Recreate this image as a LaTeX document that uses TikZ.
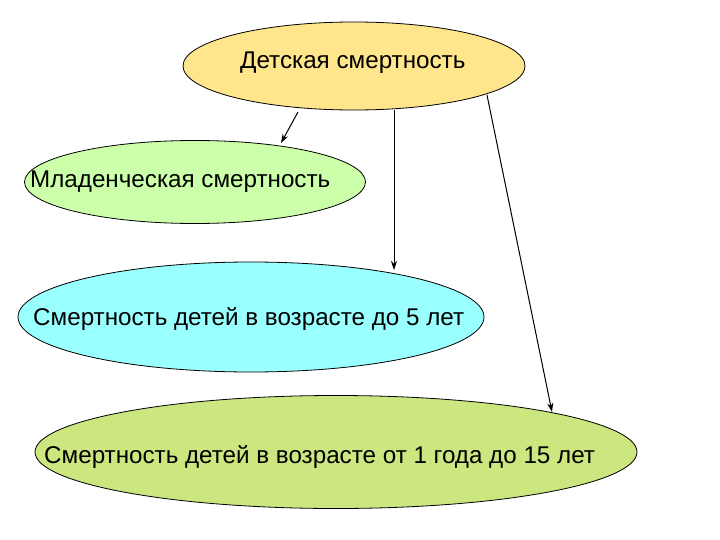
\documentclass[tikz,border=0pt]{standalone}
\usepackage{fontspec}
\setmainfont{Liberation Sans}
\usetikzlibrary{shapes.geometric,arrows.meta}
\begin{document}
\begin{tikzpicture}[x=1pt,y=-1pt,
 ell/.style={ellipse,draw=black,line width=0.8pt,inner sep=0pt},
 lbl/.style={font=\fontsize{24.2}{28}\selectfont,anchor=west,inner sep=0pt},
 arr/.style={-{Stealth[length=9pt,width=6pt]},line width=1pt}]
\useasboundingbox (0,0) rectangle (720,540);
\node[ell,fill={rgb,255:red,255;green,230;blue,140},minimum width=342,minimum height=88] (e1) at (354,66) {};
\node[ell,fill={rgb,255:red,204;green,255;blue,170},minimum width=341,minimum height=83] (e2) at (195,182) {};
\node[ell,fill={rgb,255:red,153;green,255;blue,255},minimum width=466,minimum height=110] (e3) at (251,317) {};
\node[ell,fill={rgb,255:red,204;green,230;blue,128},minimum width=602,minimum height=113] (e4) at (336,452) {};
\node[lbl] (t1) at (240,63) {Детская смертность};
\node[lbl] (t2) at (30,182) {Младенческая смертность};
\node[lbl] (t3) at (33,319) {Смертность детей в возрасте до 5 лет};
\node[lbl] (t4) at (44,457) {Смертность детей в возрасте от 1 года до 15 лет};
\coordinate (s1) at (298,112); \coordinate (d1) at (281,143);
\coordinate (s2) at (394,110); \coordinate (d2) at (394,270);
\coordinate (s3) at (487,95);  \coordinate (d3) at (552,412);
\draw[arr] (s1) -- (d1);
\draw[arr] (s2) -- (d2);
\draw[arr] (s3) -- (d3);
\end{tikzpicture}
\end{document}
